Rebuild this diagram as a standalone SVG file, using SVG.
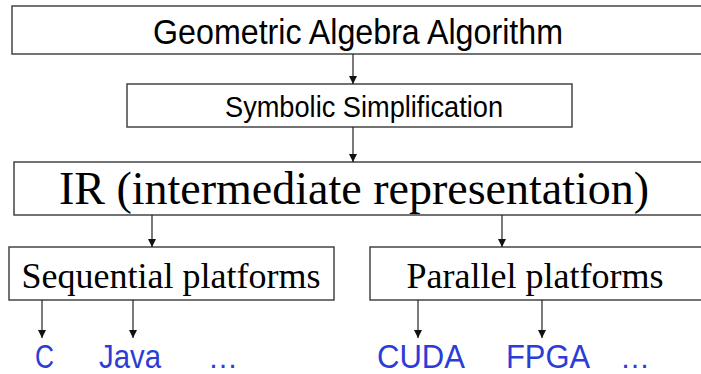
<svg xmlns="http://www.w3.org/2000/svg" width="701" height="374" viewBox="0 0 701 374">
<style>
.box{fill:#fff;stroke:#444;stroke-width:1.5}
.sans{font-family:"Liberation Sans",Arial,sans-serif;fill:#000}
.serif{font-family:"Liberation Serif","Times New Roman",serif;fill:#000;text-anchor:middle}
.blue{font-family:"Liberation Sans",Arial,sans-serif;fill:#2b3dd6;font-size:34px}
.dots{font-family:"Liberation Sans",Arial,sans-serif;fill:#2b3dd6;font-size:30px}
.conn{stroke:#222;stroke-width:1.2;fill:none;marker-end:url(#ah)}
</style>
<defs>
<marker id="ah" viewBox="0 0 8 10" refX="8" refY="5" markerWidth="8" markerHeight="10" markerUnits="userSpaceOnUse" orient="auto">
<path d="M0,1 L8,5 L0,9 Z" fill="#111"/>
</marker>
</defs>
<rect width="701" height="374" fill="#fff"/>
<g id="n-ga">
<rect class="box" x="12" y="6" width="700" height="48"/>
<text class="sans" x="153" y="44" font-size="35" textLength="410" lengthAdjust="spacingAndGlyphs">Geometric Algebra Algorithm</text>
</g>
<g id="n-sym">
<rect class="box" x="127" y="84" width="445" height="43"/>
<text class="sans" x="225" y="117" font-size="29" textLength="278" lengthAdjust="spacingAndGlyphs">Symbolic Simplification</text>
</g>
<g id="n-ir">
<rect class="box" x="14" y="162" width="700" height="53"/>
<text class="serif" x="354" y="204" font-size="46">IR (intermediate representation)</text>
</g>
<g id="n-seq">
<rect class="box" x="9" y="247" width="325" height="53"/>
<text class="serif" x="171" y="288" font-size="36">Sequential platforms</text>
</g>
<g id="n-par">
<rect class="box" x="370" y="247" width="340" height="53"/>
<text class="serif" x="535" y="288" font-size="36">Parallel platforms</text>
</g>
<g id="n-c"><text class="blue" x="35" y="368" textLength="19" lengthAdjust="spacingAndGlyphs">C</text></g>
<g id="n-java"><text class="blue" x="99" y="368" textLength="62" lengthAdjust="spacingAndGlyphs">Java</text></g>
<g id="n-dots1"><text class="dots" x="208" y="368">…</text></g>
<g id="n-cuda"><text class="blue" x="377" y="368" textLength="88" lengthAdjust="spacingAndGlyphs">CUDA</text></g>
<g id="n-fpga"><text class="blue" x="506" y="368" textLength="84" lengthAdjust="spacingAndGlyphs">FPGA</text></g>
<g id="n-dots2"><text class="dots" x="620" y="368">…</text></g>
<g id="connectors">
<line class="conn" x1="353" y1="54" x2="353" y2="84"/>
<line class="conn" x1="353" y1="127" x2="353" y2="162"/>
<line class="conn" x1="152" y1="215" x2="152" y2="247"/>
<line class="conn" x1="502" y1="215" x2="502" y2="247"/>
<line class="conn" x1="42" y1="300" x2="42" y2="338"/>
<line class="conn" x1="133" y1="300" x2="133" y2="338"/>
<line class="conn" x1="418" y1="300" x2="418" y2="338"/>
<line class="conn" x1="542" y1="300" x2="542" y2="338"/>
</g>
</svg>
